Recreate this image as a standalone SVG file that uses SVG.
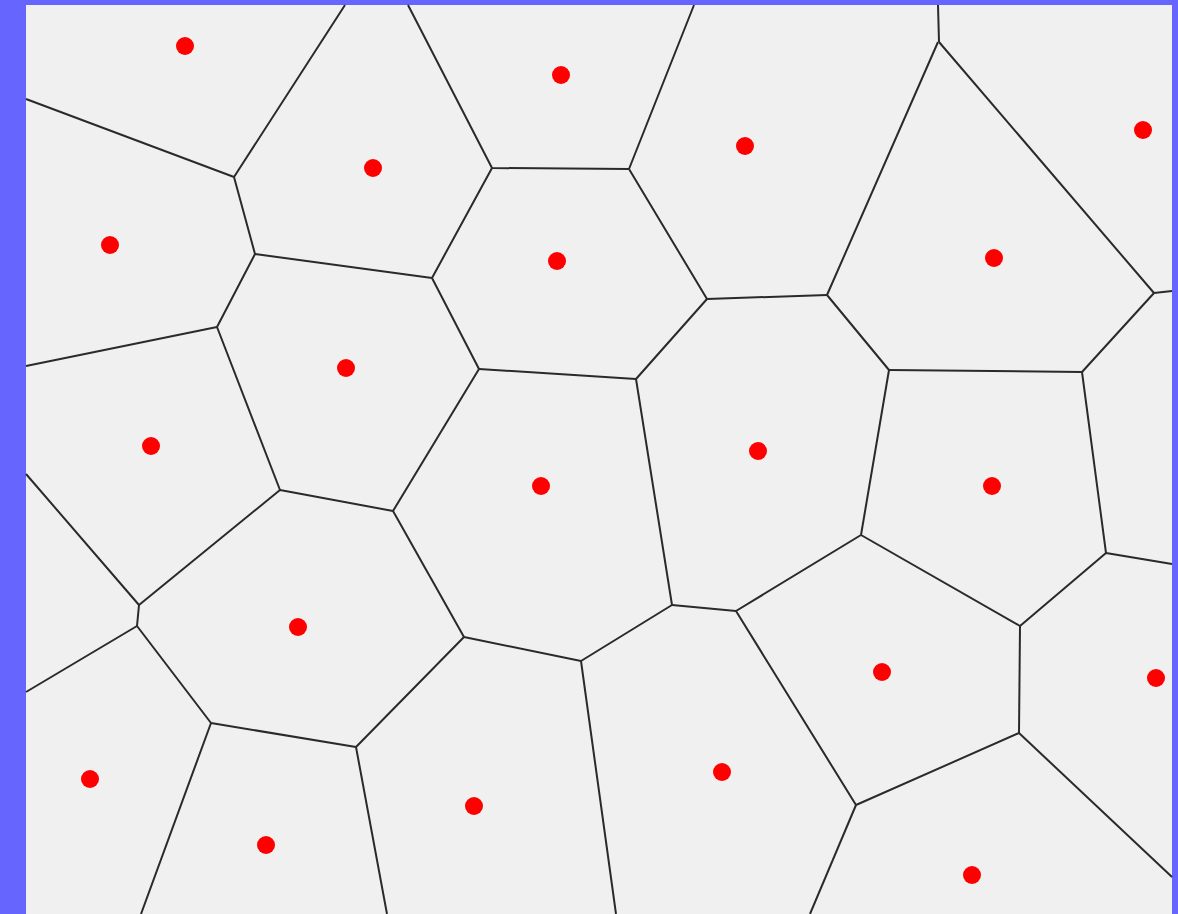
<svg xmlns="http://www.w3.org/2000/svg" width="1178" height="914" viewBox="0 0 1178 914">
<style>
.e{stroke:#2a2a2a;stroke-width:2;fill:none;stroke-linecap:butt}
.s{fill:#ff0000}
</style>
<rect x="0" y="0" width="1178" height="914" fill="#6666ff"/>
<rect x="26" y="5" width="1146" height="909" fill="#f0f0f0"/>
<g id="edges">
<path class="e" d="M26,99 L234,177 M345,5 L234,177 M234,177 L255,254"/>
<path class="e" d="M255,254 L432,278 M255,254 L217,327"/>
<path class="e" d="M432,278 L492,168 M432,278 L479,369"/>
<path class="e" d="M408,5 L492,168 M492,168 L629,169"/>
<path class="e" d="M694,5 L629,169 M629,169 L707,299"/>
<path class="e" d="M707,299 L827,295 M707,299 L636,379"/>
<path class="e" d="M827,295 L938,42 M827,295 L889,370"/>
<path class="e" d="M938,5 L939,42 M939,42 L1154,293 M1154,293 L1172,291 M1154,293 L1082,372"/>
<path class="e" d="M1082,372 L889,370 M1082,372 L1106,553"/>
<path class="e" d="M889,370 L861,535"/>
<path class="e" d="M636,379 L479,369 M636,379 L672,605"/>
<path class="e" d="M479,369 L393,511"/>
<path class="e" d="M217,327 L26,366 M217,327 L280,490"/>
<path class="e" d="M280,490 L393,511 M280,490 L139,605"/>
<path class="e" d="M393,511 L464,637"/>
<path class="e" d="M139,605 L26,474 M139,605 L137,626"/>
<path class="e" d="M137,626 L26,692 M137,626 L211,723"/>
<path class="e" d="M211,723 L356,747 M211,723 L141,914"/>
<path class="e" d="M356,747 L464,637 M356,747 L387,914"/>
<path class="e" d="M464,637 L581,661"/>
<path class="e" d="M581,661 L672,605 M581,661 L616,914"/>
<path class="e" d="M672,605 L736,611"/>
<path class="e" d="M736,611 L861,535 M736,611 L856,805"/>
<path class="e" d="M861,535 L1020,626"/>
<path class="e" d="M1106,553 L1172,564 M1106,553 L1020,626"/>
<path class="e" d="M1020,626 L1019,733"/>
<path class="e" d="M1019,733 L856,805 M1019,733 L1172,877"/>
<path class="e" d="M856,805 L810,914"/>
</g>
<g id="site1"><circle class="s" cx="185" cy="46" r="9"/></g>
<g id="site2"><circle class="s" cx="561" cy="75" r="9"/></g>
<g id="site3"><circle class="s" cx="373" cy="168" r="9"/></g>
<g id="site4"><circle class="s" cx="745" cy="146" r="9"/></g>
<g id="site5"><circle class="s" cx="1143" cy="130" r="9"/></g>
<g id="site6"><circle class="s" cx="110" cy="245" r="9"/></g>
<g id="site7"><circle class="s" cx="557" cy="261" r="9"/></g>
<g id="site8"><circle class="s" cx="994" cy="258" r="9"/></g>
<g id="site9"><circle class="s" cx="346" cy="368" r="9"/></g>
<g id="site10"><circle class="s" cx="151" cy="446" r="9"/></g>
<g id="site11"><circle class="s" cx="758" cy="451" r="9"/></g>
<g id="site12"><circle class="s" cx="541" cy="486" r="9"/></g>
<g id="site13"><circle class="s" cx="992" cy="486" r="9"/></g>
<g id="site14"><circle class="s" cx="298" cy="627" r="9"/></g>
<g id="site15"><circle class="s" cx="882" cy="672" r="9"/></g>
<g id="site16"><circle class="s" cx="1156" cy="678" r="9"/></g>
<g id="site17"><circle class="s" cx="90" cy="779" r="9"/></g>
<g id="site18"><circle class="s" cx="722" cy="772" r="9"/></g>
<g id="site19"><circle class="s" cx="474" cy="806" r="9"/></g>
<g id="site20"><circle class="s" cx="266" cy="845" r="9"/></g>
<g id="site21"><circle class="s" cx="972" cy="875" r="9"/></g>
</svg>
